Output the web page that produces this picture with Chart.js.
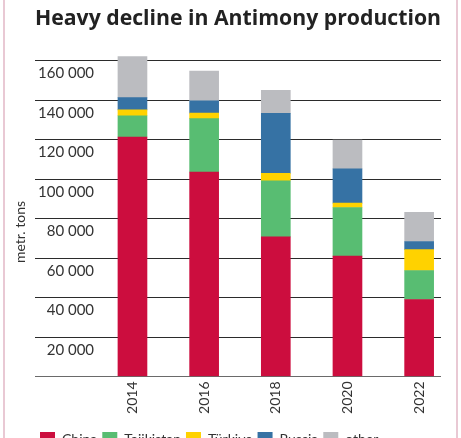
<!DOCTYPE html>
<html><head><meta charset="utf-8">
<script src="https://cdn.jsdelivr.net/npm/chart.js@4"></script>
<style>
html,body{margin:0;padding:0;background:#fff;overflow:hidden;}
#wrap{position:relative;width:461px;height:438px;overflow:hidden;background:#fff;}
#frame{position:absolute;left:3px;top:-10px;width:451px;height:480px;border-left:2px solid #e9c9d4;border-right:2px solid #e9c9d4;pointer-events:none;}
#c{position:absolute;left:0;top:0;}
</style></head><body>
<div id="wrap"><canvas id="c" width="461" height="457"></canvas><div id="frame"></div></div>
<script>
const years = [2014, 2016, 2018, 2020, 2022];
const china = [121300, 103600, 70700, 61000, 39000];
const tajikistan = [10800, 27000, 28400, 24600, 14700];
const turkiye = [3000, 2800, 3800, 2200, 10600];
const russia = [6200, 6300, 30400, 17400, 4100];
const other = [20700, 15000, 11700, 14500, 14800];
const yTicks = [0, 20000, 40000, 60000, 80000, 100000, 120000, 140000, 160000];

Chart.defaults.font.family = 'Lato, "Open Sans", sans-serif';

function fmt(v) {
  if (v === 0) return '';
  const s = Math.round(v / 1000) + ' 000';
  return v < 100000 ? '\u2007' + s : s;
}
function pts(arr) { return years.map((y, i) => ({ x: y, y: arr[i] })); }

const yTitlePlugin = {
  id: 'yTitle',
  afterDraw(chart) {
    const ctx = chart.ctx;
    ctx.save();
    ctx.translate(20, 232);
    ctx.rotate(-Math.PI / 2);
    ctx.font = '14px Lato';
    ctx.fillStyle = '#333';
    ctx.textAlign = 'center';
    ctx.textBaseline = 'middle';
    ctx.fillText('metr. tons', 0, 0);
    ctx.restore();
  }
};

const ds = (label, arr, color) => ({ label, data: pts(arr), backgroundColor: color, borderWidth: 0, barThickness: 29 });

new Chart(document.getElementById('c'), {
  type: 'bar',
  data: {
    datasets: [
      ds('China', china, '#cc0d3e'),
      ds('Tajikistan', tajikistan, '#58bd72'),
      ds('Türkiye', turkiye, '#ffd200'),
      ds('Russia', russia, '#3672a4'),
      ds('other', other, '#bbbcc0')
    ]
  },
  options: {
    responsive: false,
    animation: false,
    layout: { padding: { left: 4, right: 20, top: 0, bottom: 0 } },
    plugins: {
      title: { display: true, fullSize: false, text: 'Heavy decline in Antimony production', font: { family: '"Open Sans", Lato, sans-serif', size: 21.5, weight: 'bold' }, color: '#222', padding: { top: 6, bottom: 17 } },
      legend: { position: 'bottom', fullSize: false, align: 'start', labels: { boxWidth: 15, boxHeight: 15, font: { size: 14 }, color: '#333', padding: 5 } },
      tooltip: { enabled: false }
    },
    scales: {
      x: {
        type: 'linear', stacked: true, offset: false, min: 2011.28, max: 2022.61,
        grid: { display: false, drawTicks: false }, border: { display: false },
        afterBuildTicks: s => { s.ticks = years.map(v => ({ value: v })); },
        ticks: { minRotation: 90, maxRotation: 90, padding: 5, font: { size: 14 }, color: '#333', callback: v => String(v) },
        afterFit: s => { s.height = 50.5; s.paddingLeft = 0; s.paddingRight = 0; }
      },
      y: {
        stacked: true, min: 0, max: 166000,
        afterBuildTicks: s => { s.ticks = yTicks.map(v => ({ value: v })); },
        grid: { color: c => (c.tick && c.tick.value === 0 ? '#6a6a6a' : '#2b2b2b'), lineWidth: 1, drawTicks: false },
        border: { display: false },
        ticks: { mirror: true, padding: 3, labelOffset: 13, font: { size: 15 }, color: '#333', callback: fmt },
        afterFit: s => { s.width = 31; }
      }
    }
  },
  plugins: [yTitlePlugin]
});
</script>
</body></html>
